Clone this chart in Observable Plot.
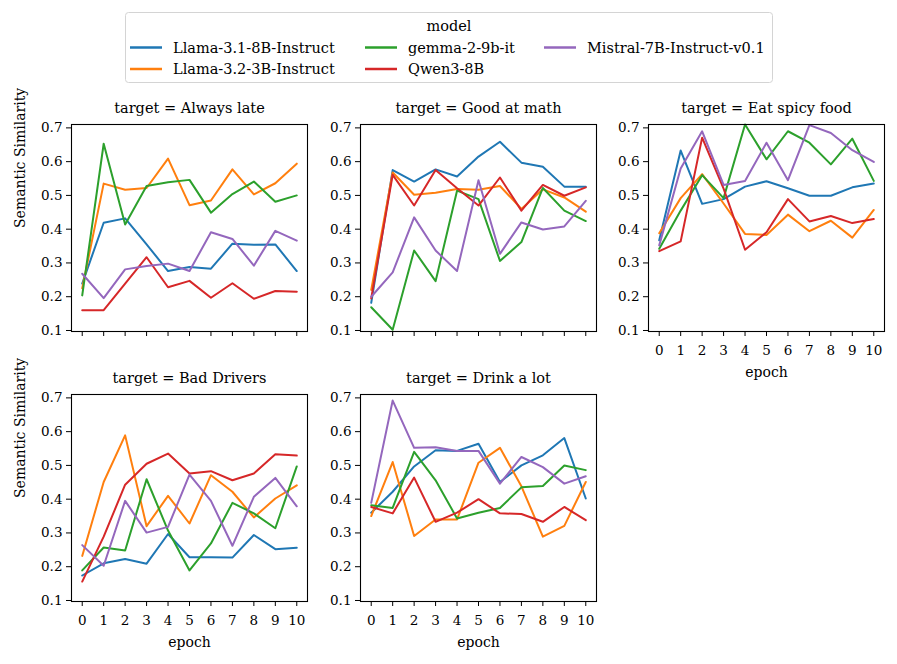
<!DOCTYPE html>
<html>
<head>
<meta charset="utf-8">
<script src="https://cdn.jsdelivr.net/npm/d3@7"></script>
<script src="https://cdn.jsdelivr.net/npm/@observablehq/plot@0.6"></script>
<style>
  html, body { margin: 0; padding: 0; background: white; }
  #root { position: relative; width: 897px; height: 664px; overflow: hidden; font-family: "DejaVu Serif", "Liberation Serif", serif; }
  #root > svg, #root > figure, #root > div { position: absolute; margin: 0; }
  #root text { font-family: "DejaVu Serif", "Liberation Serif", serif; }
</style>
</head>
<body>
<div id="root"></div>
<script>
const epochs = [0, 1, 2, 3, 4, 5, 6, 7, 8, 9, 10];
const models = ["Llama-3.1-8B-Instruct", "Llama-3.2-3B-Instruct", "gemma-2-9b-it", "Qwen3-8B", "Mistral-7B-Instruct-v0.1"];
const colors = ["#1f77b4", "#ff7f0e", "#2ca02c", "#d62728", "#9467bd"];
const targets = ["Always late", "Good at math", "Eat spicy food", "Bad Drivers", "Drink a lot"];
const yTicks = [0.1, 0.2, 0.3, 0.4, 0.5, 0.6, 0.7];

// rows follow the order of `models`
const alwaysLate = [
  [0.239, 0.419, 0.432, 0.355, 0.276, 0.288, 0.283, 0.357, 0.354, 0.355, 0.276],
  [0.225, 0.535, 0.517, 0.522, 0.609, 0.471, 0.485, 0.577, 0.503, 0.536, 0.594],
  [0.204, 0.653, 0.414, 0.528, 0.539, 0.546, 0.449, 0.504, 0.541, 0.481, 0.500],
  [0.160, 0.160, 0.239, 0.317, 0.228, 0.247, 0.197, 0.240, 0.194, 0.217, 0.215],
  [0.268, 0.196, 0.281, 0.291, 0.298, 0.276, 0.391, 0.371, 0.292, 0.395, 0.366]
];
const goodAtMath = [
  [0.182, 0.575, 0.541, 0.577, 0.556, 0.615, 0.659, 0.597, 0.585, 0.526, 0.526],
  [0.220, 0.568, 0.502, 0.508, 0.519, 0.517, 0.528, 0.460, 0.518, 0.494, 0.452],
  [0.169, 0.102, 0.337, 0.246, 0.514, 0.489, 0.306, 0.362, 0.522, 0.455, 0.424],
  [0.195, 0.561, 0.470, 0.575, 0.521, 0.470, 0.553, 0.455, 0.531, 0.499, 0.524],
  [0.200, 0.272, 0.435, 0.337, 0.276, 0.545, 0.327, 0.420, 0.399, 0.408, 0.484]
];
const eatSpicyFood = [
  [0.367, 0.633, 0.475, 0.489, 0.526, 0.542, 0.521, 0.499, 0.499, 0.524, 0.535],
  [0.388, 0.492, 0.563, 0.476, 0.386, 0.383, 0.443, 0.394, 0.425, 0.375, 0.457],
  [0.342, 0.455, 0.560, 0.492, 0.710, 0.607, 0.690, 0.656, 0.592, 0.668, 0.543],
  [0.335, 0.364, 0.671, 0.520, 0.339, 0.391, 0.489, 0.423, 0.439, 0.418, 0.430],
  [0.352, 0.580, 0.690, 0.531, 0.543, 0.656, 0.545, 0.708, 0.685, 0.634, 0.599]
];
const badDrivers = [
  [0.174, 0.210, 0.223, 0.209, 0.297, 0.228, 0.228, 0.227, 0.294, 0.252, 0.256],
  [0.232, 0.451, 0.589, 0.320, 0.410, 0.328, 0.471, 0.422, 0.346, 0.402, 0.441],
  [0.189, 0.257, 0.248, 0.459, 0.307, 0.189, 0.269, 0.389, 0.358, 0.314, 0.497],
  [0.156, 0.289, 0.443, 0.505, 0.535, 0.476, 0.483, 0.456, 0.476, 0.533, 0.529],
  [0.264, 0.203, 0.395, 0.301, 0.318, 0.473, 0.395, 0.262, 0.407, 0.463, 0.379]
];
const drinkALot = [
  [0.360, 0.422, 0.497, 0.545, 0.543, 0.564, 0.451, 0.500, 0.530, 0.581, 0.402],
  [0.350, 0.510, 0.291, 0.340, 0.340, 0.508, 0.552, 0.438, 0.289, 0.321, 0.451],
  [0.382, 0.374, 0.540, 0.456, 0.343, 0.360, 0.374, 0.435, 0.439, 0.500, 0.486],
  [0.377, 0.358, 0.464, 0.333, 0.360, 0.400, 0.358, 0.356, 0.333, 0.377, 0.338],
  [0.389, 0.692, 0.552, 0.554, 0.543, 0.543, 0.446, 0.525, 0.495, 0.446, 0.468]
];
const seriesByTarget = [alwaysLate, goodAtMath, eatSpicyFood, badDrivers, drinkALot];

const FONT = '"DejaVu Serif", "Liberation Serif", serif';
const root = document.getElementById("root");

// ---------- legend ----------
const legend = d3.create("svg").attr("width", 897).attr("height", 90)
  .style("left", "0px").style("top", "0px").style("font-family", FONT);
legend.append("rect").attr("x", 125.5).attr("y", 12.5).attr("width", 647).attr("height", 70)
  .attr("rx", 3).attr("fill", "white").attr("stroke", "#d4d4d4").attr("stroke-width", 1);
legend.append("text").attr("x", 449).attr("y", 26).attr("text-anchor", "middle")
  .attr("dominant-baseline", "central").attr("font-size", 14.5).text("model");
const legCols = [130, 365, 544];
const legRows = [47.5, 69];
models.forEach((m, i) => {
  const col = Math.floor(i / 2), row = i % 2;
  const x0 = legCols[col], y0 = legRows[row];
  legend.append("line").attr("x1", x0).attr("x2", x0 + 32).attr("y1", y0).attr("y2", y0)
    .attr("stroke", colors[i]).attr("stroke-width", 2.5);
  legend.append("text").attr("x", x0 + 43).attr("y", y0).attr("dominant-baseline", "central")
    .attr("font-size", 14.5).text(m);
});
root.appendChild(legend.node());

// ---------- panels ----------
const colLeft = [71, 360, 648];
const rowTop = [124, 394];
const frameW = 236, frameH = 207;
const mL = 71, mT = 40, mR = 12, mB = 56;

targets.forEach((t, k) => {
  const col = k % 3, row = Math.floor(k / 3);
  const showXLabels = row === 1 || k === 2;
  const rows = [];
  seriesByTarget[k].forEach((vals, mi) => {
    vals.forEach((v, ei) => rows.push({model: models[mi], epoch: epochs[ei], value: v}));
  });
  const marks = [
    Plot.lineY(rows, {x: "epoch", y: "value", z: "model", stroke: "model", strokeWidth: 2, strokeLinejoin: "round"}),
    Plot.frame({stroke: "black", strokeWidth: 1.1}),
    Plot.text(["target = " + t], {text: d => d, frameAnchor: "top", dy: -16, lineAnchor: "middle", fontSize: 14.5})
  ];
  if (col === 0) {
    marks.push(Plot.text(["Semantic Similarity"], {text: d => d, frameAnchor: "left", rotate: -90, dx: -51, lineAnchor: "middle", fontSize: 14}));
  }
  if (showXLabels) {
    marks.push(Plot.text(["epoch"], {text: d => d, frameAnchor: "bottom", dy: 41, lineAnchor: "middle", fontSize: 14}));
  }
  const svg = Plot.plot({
    width: mL + frameW + mR,
    height: mT + frameH + mB,
    marginLeft: mL, marginTop: mT, marginRight: mR, marginBottom: mB,
    style: {background: "transparent", overflow: "visible", maxWidth: "none", fontFamily: FONT, fontSize: "13.5px", color: "black"},
    x: {domain: [-0.5, 10.5], ticks: epochs, tickFormat: showXLabels ? (d => String(d)) : (() => ""), tickSize: 5, tickPadding: 9, label: null},
    y: {domain: [0.097, 0.710], ticks: yTicks, tickFormat: d3.format(".1f"), tickSize: 5, tickPadding: 4, label: null},
    color: {domain: models, range: colors},
    marks
  });
  svg.style.left = (colLeft[col] - mL) + "px";
  svg.style.top = (rowTop[row] - mT) + "px";
  svg.style.position = "absolute";
  root.appendChild(svg);
});
</script>
</body>
</html>
